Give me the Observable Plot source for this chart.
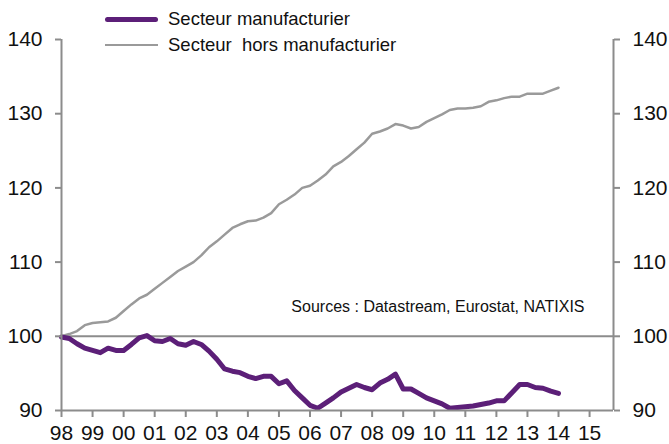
<!DOCTYPE html>
<html>
<head>
<meta charset="utf-8">
<script src="https://cdn.jsdelivr.net/npm/d3@7"></script>
<script src="https://cdn.jsdelivr.net/npm/@observablehq/plot@0.6"></script>
<style>
  body { margin: 0; background: #fff; }
  #wrap { position: relative; width: 669px; height: 444px; font-family: "Liberation Sans", Arial, sans-serif; }
  .leg { position: absolute; left: 105px; font-size: 18.5px; line-height: 22px; color: #111; display: flex; align-items: center; }
  .sw { width: 53px; margin-right: 10px; }
</style>
</head>
<body>
<div id="wrap">
  <div class="leg" style="top:8px;"><div class="sw" style="height:5px;background:#5c1f78;border-radius:3px;"></div><span>Secteur manufacturier</span></div>
  <div class="leg" style="top:34px;"><div class="sw" style="height:2.5px;background:#9a9a9a;"></div><span>Secteur&nbsp; hors manufacturier</span></div>
</div>
<script>
const seriesNames = ["Secteur manufacturier", "Secteur  hors manufacturier"];
const startYear = 1998; // quarterly, first quarter 1998 .. first quarter 2014
const manufacturier = [
  99.9, 99.7, 99.0, 98.4, 98.1, 97.8, 98.4, 98.1, 98.1, 98.9, 99.8, 100.1,
  99.4, 99.3, 99.7, 99.0, 98.8, 99.3, 98.9, 98.0, 96.9, 95.6, 95.3, 95.1,
  94.6, 94.3, 94.6, 94.6, 93.6, 94.0, 92.7, 91.7, 90.7, 90.3, 91.0, 91.7,
  92.5, 93.0, 93.5, 93.1, 92.8, 93.7, 94.2, 94.9, 92.9, 92.9, 92.3, 91.7,
  91.3, 90.9, 90.3, 90.4, 90.5, 90.6, 90.8, 91.0, 91.3, 91.3, 92.4, 93.5,
  93.5, 93.1, 93.0, 92.6, 92.3
];
const horsManufacturier = [
  100.0, 100.3, 100.7, 101.5, 101.8, 101.9, 102.0, 102.5, 103.4, 104.3, 105.1, 105.6,
  106.4, 107.2, 108.0, 108.8, 109.4, 110.0, 110.9, 112.0, 112.8, 113.7, 114.6, 115.1,
  115.5, 115.6, 116.0, 116.6, 117.8, 118.4, 119.1, 120.0, 120.3, 121.0, 121.8, 122.9,
  123.5, 124.3, 125.2, 126.1, 127.3, 127.6, 128.0, 128.6, 128.4, 128.0, 128.2, 128.9,
  129.4, 129.9, 130.5, 130.7, 130.7, 130.8, 131.0, 131.6, 131.8, 132.1, 132.3, 132.3,
  132.7, 132.7, 132.7, 133.1, 133.5
];
const yearTicks = [1998,1999,2000,2001,2002,2003,2004,2005,2006,2007,2008,2009,2010,2011,2012,2013,2014,2015];
const yearLabels = ["98","99","00","01","02","03","04","05","06","07","08","09","10","11","12","13","14","15"];
const yTicks = [90, 100, 110, 120, 130, 140];
const sourceText = "Sources : Datastream, Eurostat, NATIXIS";

const xDomain = [1998, 2015.77];
const manuf = manufacturier.map((v, i) => ({t: startYear + i / 4, v}));
const hors = horsManufacturier.map((v, i) => ({t: startYear + i / 4, v}));
const labelOf = new Map(yearTicks.map((y, i) => [y, yearLabels[i]]));

const axisColor = "#8c8c8c";
const chart = Plot.plot({
  width: 669,
  height: 444,
  marginLeft: 61,
  marginRight: 56,
  marginTop: 39,
  marginBottom: 34,
  style: {fontFamily: "'Liberation Sans', Arial, sans-serif", color: "#111", background: "transparent"},
  x: {domain: xDomain},
  y: {domain: [90, 140]},
  marks: [
    Plot.ruleY([100], {stroke: axisColor, strokeWidth: 2}),
    Plot.line(hors, {x: "t", y: "v", stroke: "#9a9a9a", strokeWidth: 2.5}),
    Plot.line(manuf, {x: "t", y: "v", stroke: "#5c1f78", strokeWidth: 5, strokeLinejoin: "round", strokeLinecap: "round"}),
    Plot.ruleX([xDomain[0]], {stroke: axisColor, strokeWidth: 2}),
    Plot.ruleX([xDomain[1]], {stroke: axisColor, strokeWidth: 2}),
    Plot.ruleY([90], {stroke: axisColor, strokeWidth: 2}),
    Plot.axisY({anchor: "left", ticks: yTicks, tickSize: 6, tickPadding: 13, stroke: axisColor, strokeWidth: 2, fontSize: 21, label: null, fill: "#111"}),
    Plot.axisY({anchor: "right", ticks: yTicks, tickSize: 6, tickPadding: 13, stroke: axisColor, strokeWidth: 2, fontSize: 21, label: null, fill: "#111"}),
    Plot.axisX({anchor: "bottom", ticks: yearTicks, tickFormat: d => labelOf.get(d), tickSize: 7, tickPadding: 8, stroke: axisColor, strokeWidth: 2, fontSize: 21, label: null, fill: "#111"}),
    Plot.text([sourceText], {x: 2005.4, y: 104, text: d => d, textAnchor: "start", fontSize: 16, fill: "#111"})
  ]
});
document.getElementById("wrap").prepend(chart);
chart.style.position = "absolute";
chart.style.left = "0";
chart.style.top = "0";
</script>
</body>
</html>
